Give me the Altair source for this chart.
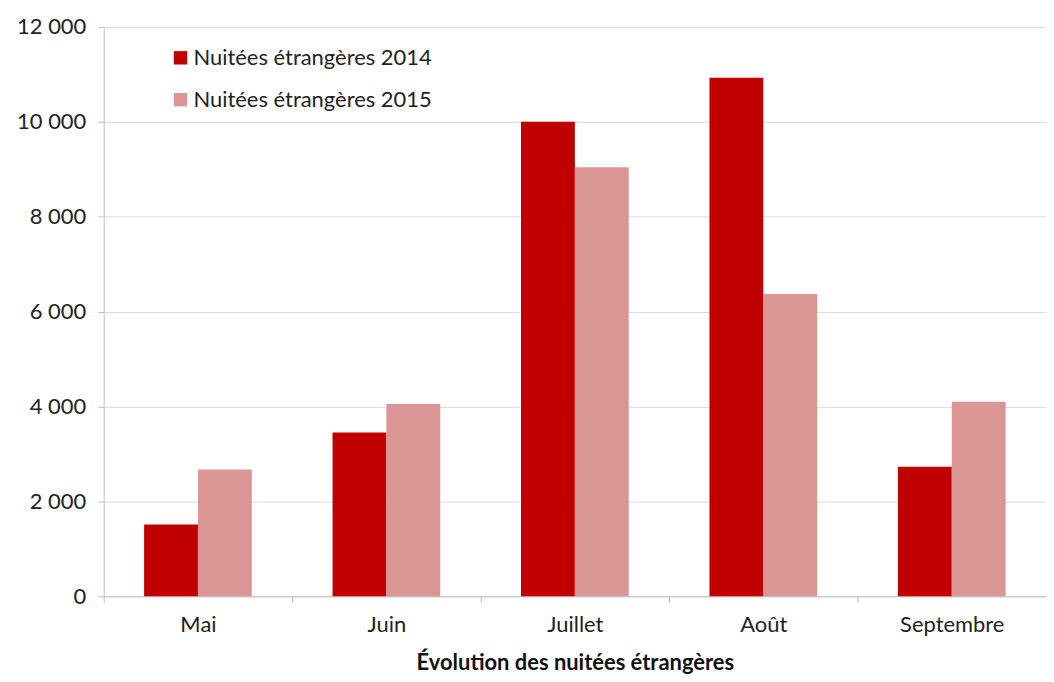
import altair as alt
import pandas as pd

months = ["Mai", "Juin", "Juillet", "Août", "Septembre"]
series_names = ["Nuitées étrangères 2014", "Nuitées étrangères 2015"]
values_2014 = [1510, 3450, 10000, 10930, 2730]
values_2015 = [2670, 4050, 9040, 6370, 4100]
colors = ["#C00000", "#D99694"]

rows = []
for i, m in enumerate(months):
    rows.append({"mois": m, "serie": series_names[0], "valeur": values_2014[i]})
    rows.append({"mois": m, "serie": series_names[1], "valeur": values_2015[i]})
df = pd.DataFrame(rows)

font = "Lato"

chart = alt.Chart(df).mark_bar().encode(
    x=alt.X("mois:N", sort=months,
            scale=alt.Scale(paddingInner=0, paddingOuter=0),
            axis=alt.Axis(title="Évolution des nuitées étrangères", labelAngle=0,
                          tickBand="extent", tickSize=6, tickColor="#bfbfbf",
                          domainColor="#bfbfbf", labelFontSize=22, labelColor="#222222",
                          labelPadding=12, titleFontSize=22, titleFontWeight="bold",
                          titleColor="#111111", titlePadding=17, grid=False)),
    xOffset=alt.XOffset("serie:N", sort=series_names,
                        scale=alt.Scale(paddingInner=0, paddingOuter=0.75)),
    y=alt.Y("valeur:Q", scale=alt.Scale(domain=[0, 12000], nice=False),
            axis=alt.Axis(title=None, values=[0, 2000, 4000, 6000, 8000, 10000, 12000],
                          labelExpr="replace(format(datum.value, ','), ',', ' ')",
                          labelFontSize=22, labelColor="#222222", labelPadding=12,
                          tickSize=6, tickColor="#bfbfbf", domainColor="#bfbfbf",
                          gridColor="#d9d9d9")),
    color=alt.Color("serie:N", sort=series_names,
                    scale=alt.Scale(domain=series_names, range=colors),
                    legend=alt.Legend(title=None, orient="none", legendX=66, legendY=20,
                                      symbolType="square", symbolSize=180,
                                      symbolStrokeWidth=0, labelFontSize=22,
                                      labelColor="#222222", rowPadding=20,
                                      labelOffset=2, labelLimit=400)),
).properties(
    width=945, height=571,
    autosize=alt.AutoSizeParams(type="none"),
    padding={"left": 96, "top": 18, "right": 0, "bottom": 80},
).configure(font=font).configure_view(stroke=None)

chart.save("out.html", embed_options={"renderer": "svg", "actions": False})
